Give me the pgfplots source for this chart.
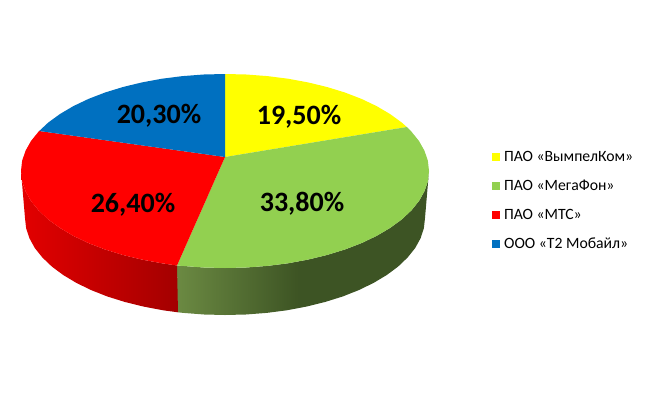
\documentclass[border=0pt]{standalone}
\usepackage{fontspec}
\setmainfont{Carlito}
\usepackage{pgfplots}
\pgfplotsset{compat=1.18}
\definecolor{pieyellow}{HTML}{FFFF00}
\definecolor{piegreen}{HTML}{92D050}
\definecolor{piered}{HTML}{FF0000}
\definecolor{pieblue}{HTML}{0070C0}
% side gradients, stops between 25bp and 75bp span the path's width
\pgfdeclarehorizontalshading{greenside}{100bp}{
  rgb(0bp)=(0.42,0.54,0.26);
  rgb(25bp)=(0.42,0.54,0.26);
  rgb(49bp)=(0.24,0.33,0.14);
  rgb(100bp)=(0.24,0.33,0.14)}
\pgfdeclarehorizontalshading{redside}{100bp}{
  rgb(0bp)=(0.89,0,0);
  rgb(25bp)=(0.89,0,0);
  rgb(75bp)=(0.64,0,0);
  rgb(100bp)=(0.64,0,0)}
\begin{document}
\begin{tikzpicture}
\path[use as bounding box] (0,0) rectangle (650pt,400pt);
\begin{axis}[
    width=650pt, height=400pt, scale only axis,
    xmin=0, xmax=650, ymin=0, ymax=400, y dir=reverse,
    hide axis, clip=false,
    legend style={at={(axis cs:492,149)}, anchor=north west, draw=none, fill=none,
      font=\fontsize{15.7}{17}\selectfont, row sep=13pt, cells={anchor=west},
      inner sep=0pt},
    legend cell align=left,
    legend image code/.code={\fill[#1] (0pt,-4pt) rectangle (8pt,4pt); \path (10pt,0pt);},
]
% side of the disc
\addplot[draw=none, shading=greenside, forget plot] coordinates {
  (429,171) (427.9,181.1) (424.5,191.2) (419,201) (411.4,210.4) (401.7,219.5) (390,228)
  (376.6,235.9) (361.5,243.1) (344.9,249.5) (327,255) (308,259.6) (288,263.3) (267.4,265.9)
  (246.3,267.5) (225,268) (203.7,267.5) (182.6,265.9) (177,265.5)
  (178,312.3) (183.4,312.9) (204.1,314.5) (225,315) (245.9,314.5) (266.6,312.9) (286.8,310.3)
  (306.3,306.6) (325,302) (342.6,296.5) (358.8,290.1) (373.6,282.9) (386.8,275) (398.2,266.5)
  (407.7,257.4) (415.2,248) (420.6,238.2) (423.9,228.1) (425,218)
} --cycle;
\addplot[draw=none, shading=redside, forget plot] coordinates {
  (177,265.5) (162,263.3) (142,259.6) (123,255) (105.1,249.5) (88.5,243.1) (73.4,235.9)
  (60,228) (48.3,219.5) (38.6,210.4) (31,201) (25.5,191.2) (22.1,181.1) (21,171)
  (25,218) (26.1,228.1) (29.4,238.2) (34.8,248) (42.3,257.4) (51.8,266.5) (63.2,275)
  (76.4,282.9) (91.2,290.1) (107.4,296.5) (125,302) (143.7,306.6) (163.2,310.3) (178,312.3)
} --cycle;
% top of the disc
\addplot[draw=none, fill=pieyellow] coordinates {
  (225,157) (225,74) (246.3,74.5) (267.4,76.1) (288,78.7) (308,82.4) (327,87) (344.9,92.5)
  (361.5,98.9) (376.6,106.1) (390,114) (401.7,122.5) (406.8,127)
} --cycle;
\addlegendentry{ПАО «ВымпелКом»}
\addplot[draw=none, fill=piegreen] coordinates {
  (225,157) (406.8,127) (411.4,131.6) (419,141) (424.5,150.8) (427.9,160.9) (429,171)
  (427.9,181.1) (424.5,191.2) (419,201) (411.4,210.4) (401.7,219.5) (390,228) (376.6,235.9)
  (361.5,243.1) (344.9,249.5) (327,255) (308,259.6) (288,263.3) (267.4,265.9) (246.3,267.5)
  (225,268) (203.7,267.5) (182.6,265.9) (177,265.5)
} --cycle;
\addlegendentry{ПАО «МегаФон»}
\addplot[draw=none, fill=piered] coordinates {
  (225,157) (177,265.5) (162,263.3) (142,259.6) (123,255) (105.1,249.5) (88.5,243.1)
  (73.4,235.9) (60,228) (48.3,219.5) (38.6,210.4) (31,201) (25.5,191.2) (22.1,181.1) (21,171)
  (22.1,160.9) (25.5,150.8) (31,141) (38.6,131.6) (39.2,131)
} --cycle;
\addlegendentry{ПАО «МТС»}
\addplot[draw=none, fill=pieblue] coordinates {
  (225,157) (39.2,131) (48.3,122.5) (60,114) (73.4,106.1) (88.5,98.9) (105.1,92.5) (123,87)
  (142,82.4) (162,78.7) (182.6,76.1) (203.7,74.5) (225,74)
} --cycle;
\addlegendentry{ООО «Т2 Мобайл»}
\node[font=\fontsize{28}{30}\selectfont\bfseries] at (axis cs:299,116.5) {19,50\%};
\node[font=\fontsize{28}{30}\selectfont\bfseries] at (axis cs:302,203.5) {33,80\%};
\node[font=\fontsize{28}{30}\selectfont\bfseries] at (axis cs:133,204.5) {26,40\%};
\node[font=\fontsize{28}{30}\selectfont\bfseries] at (axis cs:159,115.5) {20,30\%};
\end{axis}
\end{tikzpicture}
\end{document}
